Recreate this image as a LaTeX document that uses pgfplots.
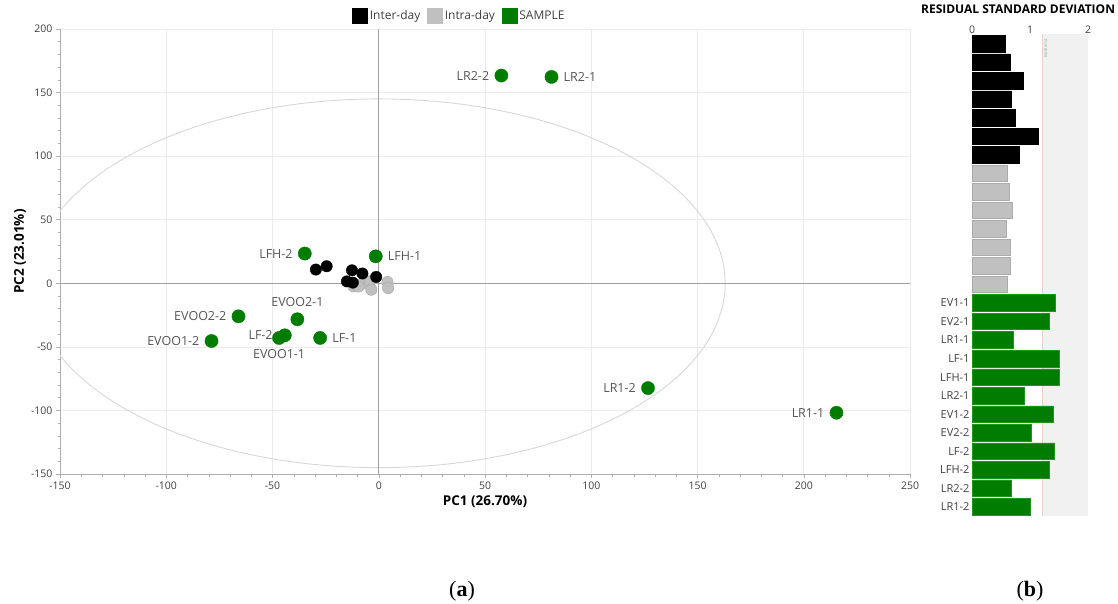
\documentclass[border=0pt]{standalone}
\usepackage{pgfplots}
\pgfplotsset{compat=1.18}
\usepackage{pgfplotstable}
\usepackage{fontspec}
\setmainfont{Open Sans}
\newfontfamily\capfont{Liberation Serif}
\definecolor{greenS}{RGB}{0,125,0}
\definecolor{greenE}{RGB}{30,150,30}
\definecolor{grayS}{RGB}{192,192,192}
\definecolor{grayE}{RGB}{172,172,172}
\definecolor{tickc}{RGB}{64,64,64}
\definecolor{lblc}{RGB}{85,85,85}
\definecolor{gridc}{RGB}{236,236,236}
\definecolor{axisc}{RGB}{175,175,175}
\definecolor{zeroc}{RGB}{160,160,160}
\definecolor{ellc}{RGB}{215,215,215}
\definecolor{bandc}{RGB}{241,241,241}
\definecolor{critc}{RGB}{238,205,205}

\pgfplotstableread{
x y
-29.6 10.8
-24.5 13.4
-12.6 10.2
-7.7 7.7
-15.0 1.5
-12.2 0.5
-1.2 5.0
}\interday

\pgfplotstableread{
x y
-11.9 -2.4
-7.7 -0.2
-4.2 1.5
-3.5 -5.0
4.1 1.0
4.4 -3.7
-9.5 -2.5
}\intraday

% samples labelled on the left
\pgfplotstableread{
x y label
57.7 163.4 LR2-2
-34.8 23.4 LFH-2
-66.0 -26.0 EVOO2-2
-78.7 -45.4 EVOO1-2
-44.2 -40.9 LF-2
126.7 -82.4 LR1-2
215.4 -101.8 LR1-1
}\sampleL
% samples labelled on the right
\pgfplotstableread{
x y label
81.3 162.3 LR2-1
-1.4 21.2 LFH-1
-27.6 -43.0 LF-1
}\sampleR
% labelled above
\pgfplotstableread{
x y label
-38.3 -28.3 EVOO2-1
}\sampleA
% labelled below
\pgfplotstableread{
x y label
-46.9 -43.0 EVOO1-1
}\sampleB

\pgfplotstableread{
v y
0.58 1
0.655 2
0.88 3
0.67 4
0.74 5
1.14 6
0.82 7
}\rsdinter

\pgfplotstableread{
v y
0.61 8
0.64 9
0.70 10
0.59 11
0.655 12
0.655 13
0.60 14
}\rsdintra

\pgfplotstableread{
v y
1.44 15
1.33 16
0.72 17
1.50 18
1.50 19
0.91 20
1.40 21
1.03 22
1.42 23
1.33 24
0.68 25
1.00 26
}\rsdsample

\tikzset{samplelbl/.style={font=\fontsize{12.5}{14}\selectfont, text=lblc, inner sep=0pt}}
\pgfplotsset{
  samplept/.style={forget plot, only marks, mark=*, mark size=6.6pt,
    mark options={fill=greenS, draw=greenS},
    point meta=explicit symbolic, nodes near coords},
}

\begin{document}
\begin{tikzpicture}
\path[use as bounding box] (0pt,0pt) rectangle (1118pt,-604pt);

% ---------------- (a) PCA scores ----------------
\begin{axis}[
  at={(60pt,-474pt)}, anchor=south west,
  scale only axis, width=850pt, height=445pt,
  xmin=-150, xmax=250, ymin=-150, ymax=200,
  xtick distance=50, ytick distance=50,
  minor x tick num=4, minor y tick num=4,
  axis lines*=left,
  axis line style={draw=axisc, line width=0.7pt},
  tick align=outside, major tick length=4pt, minor tick length=2.5pt,
  tick style={draw=axisc, line width=0.5pt},
  grid=major, major grid style={draw=gridc, line width=0.7pt},
  /pgf/number format/assume math mode=true,
  ticklabel style={font=\fontsize{10.5}{12}\selectfont, text=tickc},
  xlabel={PC1 (26.70\%)}, ylabel={PC2 (23.01\%)},
  label style={font=\bfseries\fontsize{13.5}{15}\selectfont, text=black},
  xlabel style={at={(axis description cs:0.5,-0.063)}, anchor=center},
  ylabel style={at={(axis description cs:-0.047,0.5)}, anchor=center},
  legend style={at={(0.47,1.03)}, anchor=center, draw=none, fill=none,
    font=\fontsize{12}{14}\selectfont, text=tickc, inner sep=0pt,
    /tikz/every even column/.append style={column sep=5pt}},
  legend columns=-1,
  legend cell align=left,
]
\draw[ellc, line width=0.9pt] (axis cs:0,0) ellipse [x radius=163, y radius=145];
\draw[zeroc, line width=0.8pt] (axis cs:0,-150) -- (axis cs:0,200);
\draw[zeroc, line width=0.8pt] (axis cs:-150,0) -- (axis cs:250,0);

\addlegendimage{legend image code/.code={\fill[black] (0pt,-7.5pt) rectangle (15pt,7.5pt);}}
\addlegendentry{Inter-day}
\addlegendimage{legend image code/.code={\fill[grayS] (0pt,-7.5pt) rectangle (15pt,7.5pt);}}
\addlegendentry{Intra-day}
\addlegendimage{legend image code/.code={\fill[greenS] (0pt,-7.5pt) rectangle (15pt,7.5pt);}}
\addlegendentry{SAMPLE}

\addplot[forget plot, only marks, mark=*, mark size=5.7pt,
  mark options={fill=grayS, draw=grayE, line width=0.5pt}] table[x=x,y=y] {\intraday};
\addplot[forget plot, only marks, mark=*, mark size=5.7pt,
  mark options={fill=black, draw=black}] table[x=x,y=y] {\interday};

\addplot[samplept, every node near coord/.append style={samplelbl, anchor=east, xshift=-12pt}]
  table[x=x,y=y,meta=label] {\sampleL};
\addplot[samplept, every node near coord/.append style={samplelbl, anchor=west, xshift=12pt}]
  table[x=x,y=y,meta=label] {\sampleR};
\addplot[samplept, every node near coord/.append style={samplelbl, anchor=south, yshift=12pt}]
  table[x=x,y=y,meta=label] {\sampleA};
\addplot[samplept, every node near coord/.append style={samplelbl, anchor=north, yshift=-11pt}]
  table[x=x,y=y,meta=label] {\sampleB};
\end{axis}

% ---------------- (b) residual standard deviation ----------------
\begin{axis}[
  at={(972pt,-516pt)}, anchor=south west,
  scale only axis, width=116pt, height=481.6pt,
  xmin=0, xmax=2, ymin=0.5, ymax=26.5, y dir=reverse,
  axis line style={draw=none},
  xtick={0,1,2}, xticklabel pos=upper,
  major tick length=0pt,
  ytick={15,16,17,18,19,20,21,22,23,24,25,26},
  yticklabels={EV1-1,EV2-1,LR1-1,LF-1,LFH-1,LR2-1,EV1-2,EV2-2,LF-2,LFH-2,LR2-2,LR1-2},
  /pgf/number format/assume math mode=true,
  xticklabel style={font=\fontsize{10.5}{12}\selectfont, text=tickc, yshift=-3pt},
  yticklabel style={font=\fontsize{11}{13}\selectfont, text=tickc, xshift=1pt},
  title={RESIDUAL STANDARD DEVIATION},
  title style={at={(0.397,1)}, anchor=base, yshift=15pt,
    font=\bfseries\fontsize{12}{14}\selectfont, text=black},
  xbar, bar shift=0pt, bar width=16.5pt,
  clip=false,
]
\fill[bandc] (axis cs:1.22,0.5) rectangle (axis cs:2,26.5);
\draw[critc, line width=0.8pt] (axis cs:1.22,0.5) -- (axis cs:1.22,26.5);
\node[rotate=-90, anchor=west, font=\fontsize{3.5}{4}\selectfont, text=gray]
  at (axis cs:1.27,0.6) {Dcrit (0.05)};
\addplot[fill=black, draw=black, line width=0.6pt] table[x=v,y=y] {\rsdinter};
\addplot[fill=grayS, draw=grayE, line width=0.6pt] table[x=v,y=y] {\rsdintra};
\addplot[fill=greenS, draw=greenE, line width=0.6pt] table[x=v,y=y] {\rsdsample};
\end{axis}

\node[font=\capfont\fontsize{22}{24}\selectfont] at (462pt,-591pt) {(\textbf{a})};
\node[font=\capfont\fontsize{22}{24}\selectfont] at (1030pt,-591pt) {(\textbf{b})};
\end{tikzpicture}
\end{document}
